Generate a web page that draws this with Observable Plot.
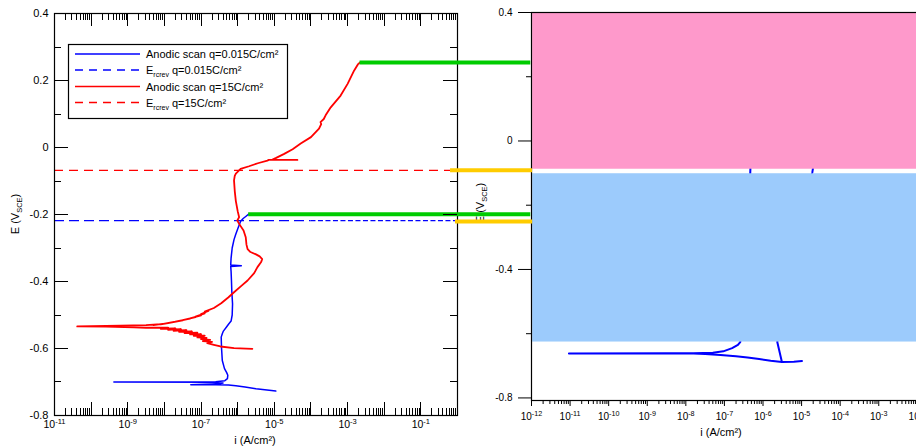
<!DOCTYPE html>
<html><head><meta charset="utf-8">
<script src="https://cdn.jsdelivr.net/npm/d3@7"></script>
<script src="https://cdn.jsdelivr.net/npm/@observablehq/plot@0.6"></script>
<style>
html,body{margin:0;padding:0;background:#fff;overflow:hidden}
#wrap{position:relative;width:916px;height:446px;overflow:hidden;background:#fff}
#wrap svg{position:absolute;top:0}
</style></head><body><div id="wrap"></div>
<script>
// ---------------- DATA ----------------
// Left panel, anodic scan q=0.015 C/cm² : [log10 i (A/cm²), E (V_SCE)] in scan order
const scanLowQ = [
  [-4.96,-0.727],[-5.2,-0.724],[-5.5,-0.720],[-5.8,-0.715],[-6.05,-0.711],[-6.25,-0.709],
  [-6.6,-0.708],[-7.28,-0.708],[-6.9,-0.707],[-6.5,-0.705],[-6.4,-0.703],[-6.7,-0.701],
  [-9.38,-0.700],[-7.5,-0.700],[-6.6,-0.699],[-6.35,-0.696],[-6.28,-0.690],[-6.27,-0.680],
  [-6.30,-0.672],[-6.36,-0.660],[-6.42,-0.636],[-6.44,-0.600],[-6.45,-0.566],[-6.42,-0.556],
  [-6.39,-0.548],[-6.30,-0.535],[-6.24,-0.526],[-6.18,-0.518],[-6.15,-0.500],[-6.14,-0.467],
  [-6.16,-0.430],[-6.17,-0.397],[-6.18,-0.370],[-6.19,-0.355],[-5.90,-0.353],[-6.19,-0.351],
  [-6.18,-0.330],[-6.15,-0.300],[-6.10,-0.275],[-6.05,-0.258],[-5.99,-0.240],[-5.92,-0.220],
  [-5.85,-0.212],[-5.78,-0.206],[-5.70,-0.199]
];
// Left panel, anodic scan q=15 C/cm²
const scanHighQ = [
  [-5.60,-0.601],[-6.10,-0.599],[-6.47,-0.594],[-6.65,-0.589],[-6.83,-0.584],
  [-6.70,-0.580],[-6.95,-0.578],[-6.75,-0.574],[-7.0,-0.572],[-6.85,-0.568],[-7.1,-0.567],
  [-6.9,-0.562],[-7.2,-0.562],[-7.0,-0.557],[-7.3,-0.558],[-7.1,-0.553],[-7.45,-0.554],
  [-7.25,-0.549],[-7.6,-0.550],[-7.4,-0.545],[-7.75,-0.547],[-7.55,-0.542],[-7.9,-0.544],
  [-7.7,-0.540],[-8.1,-0.541],[-7.9,-0.538],[-8.5,-0.538],[-8.83,-0.537],[-9.6,-0.535],
  [-10.38,-0.534],
  [-9.2,-0.532],[-8.5,-0.530],[-8.1,-0.527],[-8.3,-0.530],[-7.9,-0.524],[-8.1,-0.528],
  [-7.7,-0.520],[-7.9,-0.524],[-7.5,-0.516],[-7.7,-0.520],[-7.3,-0.511],[-7.5,-0.515],
  [-7.15,-0.506],[-7.3,-0.510],[-7.0,-0.501],[-7.15,-0.505],[-6.9,-0.495],[-7.0,-0.497],
  [-6.8,-0.488],[-6.9,-0.490],[-6.65,-0.479],
  [-6.45,-0.465],[-6.25,-0.447],[-6.10,-0.432],[-5.90,-0.413],[-5.73,-0.397],[-5.55,-0.375],
  [-5.46,-0.357],[-5.36,-0.342],[-5.33,-0.333],[-5.40,-0.325],[-5.50,-0.319],[-5.65,-0.312],
  [-5.73,-0.303],[-5.76,-0.290],[-5.78,-0.268],[-5.84,-0.248],[-5.96,-0.228],[-6.01,-0.218],
  [-5.96,-0.208],[-6.00,-0.190],[-6.05,-0.160],[-6.08,-0.130],[-6.10,-0.098],[-6.08,-0.085],
  [-6.05,-0.078],[-5.92,-0.064],[-5.69,-0.056],[-5.45,-0.047],[-5.19,-0.039],[-5.15,-0.037],
  [-4.37,-0.037],[-5.05,-0.036],[-4.95,-0.031],[-4.73,-0.019],[-4.50,-0.005],[-4.28,0.012],
  [-4.00,0.031],[-3.78,0.056],[-3.72,0.070],[-3.74,0.076],[-3.65,0.085],[-3.60,0.096],
  [-3.46,0.120],[-3.19,0.155],[-3.00,0.190],[-2.82,0.230],[-2.72,0.248],[-2.66,0.254]
];
// Right panel scan (mostly covered by the coloured zones)
const rightTraceA = [
  [-4.99,-0.685],[-5.2,-0.687],[-5.51,-0.688],[-5.8,-0.684],[-6.1,-0.679],[-6.4,-0.674],
  [-6.7,-0.670],[-7.1,-0.666],[-7.5,-0.663],[-7.8,-0.662],[-8.5,-0.662],[-11.03,-0.662],
  [-8.5,-0.661],[-7.8,-0.661],[-7.3,-0.659],[-7.03,-0.655],[-6.8,-0.645],[-6.65,-0.635],
  [-6.59,-0.626],[-6.45,-0.5],[-6.35,-0.2],[-6.33,-0.097],[-6.3,0.0]
];
const rightTraceB = [
  [-5.51,-0.688],[-5.63,-0.626],[-5.4,-0.45],[-5.0,-0.25],[-4.72,-0.097],[-4.6,0.0]
];
// Repassivation potentials (dashed rules) and where they stop
const erpE = [-0.218, -0.068];            // q=0.015, q=15
const erpEndLog = [-0.055, -0.19];
const erpDenseFromLog = -4.0;             // q=0.015 rule turns to fine dashes here
// Green bridges: end of each anodic scan, carried to the right panel
const greenE = [0.254, -0.199];
const greenFromLog = [-2.66, -5.70];
// Yellow bridges: E_rcrev carried to the right panel
const yellowE = [-0.068, -0.221];
const yellowFromLog = [-0.19, -0.055];
const bridgeEndLog = [2.0, 2.05];         // right-panel axis, in left-panel units
// Right panel coloured zones [E low, E high]
const pinkZone = [-0.088, 0.4];
const blueZone = [-0.626, -0.102];
const zoneFromLog = -11.97;
// Tick labels
const leftXLabelExp = [-11, -9, -7, -5, -3, -1];
const leftDecades = [-11,-10,-9,-8,-7,-6,-5,-4,-3,-2,-1,0];
const leftYLabels = [0.4, 0.2, 0, -0.2, -0.4, -0.6, -0.8];
const leftYMinor = [0.3, 0.1, -0.1, -0.3, -0.5, -0.7];
const rightDecades = [-12,-11,-10,-9,-8,-7,-6,-5,-4,-3,-2,-1,0];
const rightYLabels = [0.4, 0, -0.4, -0.8];
const rightYMinor = [0.2, -0.2, -0.6];
const legendLabels = [
  ["Anodic scan q=0.015C/cm²", null],
  ["E", "rcrev", " q=0.015C/cm²"],
  ["Anodic scan q=15C/cm²", null],
  ["E", "rcrev", " q=15C/cm²"]
];

// ---------------- BUILD ----------------
const FONT = '"Liberation Sans", Arial, Helvetica, sans-serif';
const toPts = arr => arr.map(([l, E]) => ({i: 10 ** l, E}));
const minors = decs => decs.slice(0, -1).flatMap(e => [2,3,4,5,6,7,8,9].map(m => m * 10 ** e));
const fmtE = d => String(+(+d).toFixed(1));
const expFmt = d => "10^" + Math.round(Math.log10(d));
const none = () => "";
const BLUE = "#0000ff", RED = "#ff0000";

const erpRed = [{E: erpE[1], a: 1e-11, b: 10 ** erpEndLog[1]}];
const erpBlueA = [{E: erpE[0], a: 1e-11, b: 10 ** erpDenseFromLog}];
const erpBlueB = [{E: erpE[0], a: 10 ** erpDenseFromLog, b: 10 ** erpEndLog[0]}];
const greens = greenE.map((E, k) => ({E, a: 10 ** greenFromLog[k], b: 10 ** bridgeEndLog[0]}));
const yellows = yellowE.map((E, k) => ({E, a: 10 ** yellowFromLog[k], b: 10 ** bridgeEndLog[1]}));

const styleBase = {background: "transparent", overflow: "visible", fontFamily: FONT, color: "#000"};

const rightPlot = Plot.plot({
  width: 560, height: 446,
  marginLeft: 91, marginRight: 6, marginTop: 12, marginBottom: 46,
  style: {...styleBase, fontSize: "10px"},
  x: {type: "log", domain: [1e-12, 1]},
  y: {domain: [-0.808, 0.4]},
  marks: [
    Plot.line(toPts(rightTraceA), {x: "i", y: "E", stroke: BLUE, strokeWidth: 2}),
    Plot.line(toPts(rightTraceB), {x: "i", y: "E", stroke: BLUE, strokeWidth: 2}),
    Plot.rectY([pinkZone], {x1: 10 ** zoneFromLog, x2: 1, y1: d => d[0], y2: d => d[1], fill: "#fe99cb"}),
    Plot.rectY([blueZone], {x1: 10 ** zoneFromLog, x2: 1, y1: d => d[0], y2: d => d[1], fill: "#9ccbfc"}),
    Plot.frame({stroke: "#000", strokeWidth: 1.2}),
    Plot.axisX({ticks: rightDecades.map(e => 10 ** e), anchor: "bottom", tickSize: 6, tickFormat: none, label: null}),
    Plot.axisX({ticks: minors(rightDecades), anchor: "bottom", tickSize: 4, tickFormat: none, label: null}),
    Plot.axisX({ticks: rightDecades.map(e => 10 ** e), anchor: "bottom", tickSize: 0, tickPadding: 12, tickFormat: expFmt, label: null, fontSize: 10}),
    Plot.axisY({ticks: rightYLabels, anchor: "left", tickSize: 13, tickPadding: 6, tickFormat: fmtE, label: null}),
    Plot.axisY({ticks: rightYMinor, anchor: "left", tickSize: 5, tickFormat: none, label: null})
  ]
});
rightPlot.style.left = "440px";

const leftPlot = Plot.plot({
  width: 540, height: 446,
  marginLeft: 54, marginRight: 83, marginTop: 13, marginBottom: 31,
  style: {...styleBase, fontSize: "11px"},
  x: {type: "log", domain: [1e-11, 1]},
  y: {domain: [-0.8, 0.4]},
  marks: [
    Plot.ruleY(erpBlueA, {y: "E", x1: "a", x2: "b", stroke: BLUE, strokeWidth: 1.2, strokeDasharray: "10,5"}),
    Plot.ruleY(erpBlueB, {y: "E", x1: "a", x2: "b", stroke: BLUE, strokeWidth: 1.2, strokeDasharray: "5,2.5"}),
    Plot.ruleY(erpRed, {y: "E", x1: "a", x2: "b", stroke: RED, strokeWidth: 1.2, strokeDasharray: "9,6"}),
    Plot.line(toPts(scanLowQ), {x: "i", y: "E", stroke: BLUE, strokeWidth: 1.5}),
    Plot.line(toPts(scanHighQ), {x: "i", y: "E", stroke: RED, strokeWidth: 1.8}),
    Plot.frame({stroke: "#000", strokeWidth: 1.2}),
    Plot.axisX({ticks: leftXLabelExp.map(e => 10 ** e), anchor: "bottom", tickSize: 0, tickPadding: 5, tickFormat: expFmt, label: null, fontSize: 10.5}),
    Plot.axisY({ticks: leftYLabels, anchor: "left", tickSize: 0, tickPadding: 6, tickFormat: fmtE, label: null}),
    Plot.ruleY(greens, {y: "E", x1: "a", x2: "b", stroke: "#00cc00", strokeWidth: 4}),
    Plot.ruleY(yellows, {y: "E", x1: "a", x2: "b", stroke: "#ffcc00", strokeWidth: 4})
  ]
});
leftPlot.style.left = "0px";

const wrap = document.getElementById("wrap");
wrap.appendChild(rightPlot);
wrap.appendChild(leftPlot);

// Inward ticks of the left frame, on an overlay, positioned with the left plot's own scales
(function () {
  const dx = leftPlot.scale("x"), dy = leftPlot.scale("y");
  const sx = d3.scaleLog().domain(dx.domain).range(dx.range);
  const sy = d3.scaleLinear().domain(dy.domain).range(dy.range);
  const [xa, xb] = d3.extent(dx.range), [ya, yb] = d3.extent(dy.range);   // ya top, yb bottom
  const ov = d3.create("svg").attr("width", 916).attr("height", 446)
    .style("position", "absolute").style("left", "0px").style("top", "0px").style("pointer-events", "none");
  const xt = [...leftDecades.map(e => ({v: 10 ** e, len: 13})), ...minors(leftDecades).map(v => ({v, len: 7}))];
  const yt = [...leftYLabels.map(v => ({v, len: 14})), ...leftYMinor.map(v => ({v, len: 7}))];
  const seg = (x1, y1, x2, y2) => ov.append("path")
    .attr("d", `M${x1},${y1}L${x2},${y2}`).attr("stroke", "#000").attr("stroke-width", 1).attr("fill", "none");
  for (const {v, len} of xt) {
    const x = Math.round(sx(v)) + 0.5;
    seg(x, yb, x, yb - len);
    seg(x, ya, x, ya + len);
  }
  for (const {v, len} of yt) {
    const y = Math.round(sy(v)) + 0.5;
    seg(xa, y, xa + len, y);
    seg(xb, y, xb - len, y);
  }
  wrap.appendChild(ov.node());
})();

// superscript exponents in tick labels
function supify(svg) {
  d3.select(svg).selectAll("text").each(function () {
    const t = this.textContent;
    if (/^10\^/.test(t)) {
      const sel = d3.select(this);
      sel.text(null);
      sel.append("tspan").text("10");
      sel.append("tspan").attr("dy", "-0.5em").attr("font-size", "0.72em").text(t.slice(3));
    }
  });
}
supify(leftPlot); supify(rightPlot);

function eLabel(svg, x, y) {
  const t = d3.select(svg).insert("text", ":first-child")
    .attr("transform", `translate(${x},${y}) rotate(-90)`)
    .attr("text-anchor", "middle").attr("font-family", FONT).attr("font-size", 11).attr("fill", "#000");
  t.append("tspan").text("E (V");
  t.append("tspan").attr("font-size", 7.5).attr("dy", 2.5).text("SCE");
  t.append("tspan").attr("dy", -2.5).text(")");
}
function iLabel(svg, x, y) {
  d3.select(svg).append("text").attr("x", x).attr("y", y).attr("text-anchor", "middle")
    .attr("font-family", FONT).attr("font-size", 11).attr("fill", "#000").text("i (A/cm²)");
}
eLabel(leftPlot, 19, 214);
iLabel(leftPlot, 255, 444);
eLabel(rightPlot, 44, 203);
iLabel(rightPlot, 281, 436);

// legend
const lg = d3.select(leftPlot).append("g").attr("font-family", FONT).attr("font-size", 11).attr("text-anchor", "start");
lg.append("rect").attr("x", 68.5).attr("y", 44.5).attr("width", 219).attr("height", 74)
  .attr("fill", "#fff").attr("stroke", "#000").attr("stroke-width", 1.2);
const rowY = [54, 70, 86.5, 102.5];
const rowColor = [BLUE, BLUE, RED, RED];
const rowDash = [null, "8,6", null, "8,6"];
legendLabels.forEach((lab, k) => {
  lg.append("line").attr("x1", 75).attr("x2", 140).attr("y1", rowY[k]).attr("y2", rowY[k])
    .attr("stroke", rowColor[k]).attr("stroke-width", 1.3).attr("stroke-dasharray", rowDash[k]);
  const t = lg.append("text").attr("x", 146).attr("y", rowY[k] + 4).attr("fill", "#000").attr("text-anchor", "start");
  if (lab[1] === null) t.text(lab[0]);
  else {
    t.append("tspan").text(lab[0]);
    t.append("tspan").attr("font-size", 7).attr("dy", 3).text(lab[1]);
    t.append("tspan").attr("dy", -3).text(lab[2]);
  }
});
</script></body></html>
